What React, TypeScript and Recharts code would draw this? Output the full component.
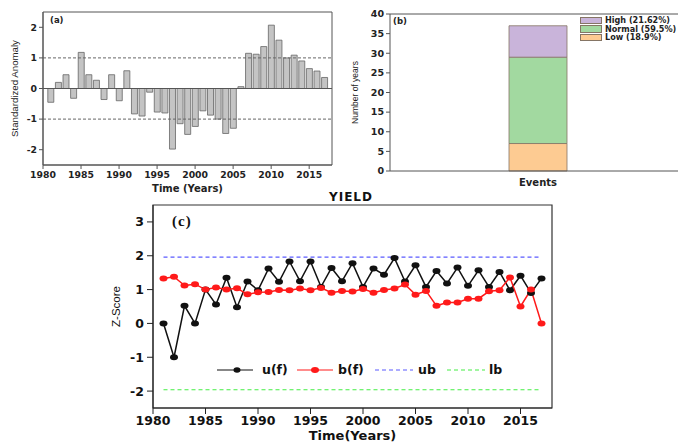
import { BarChart, Bar, LineChart, Line, XAxis, YAxis, ReferenceLine, ReferenceArea, Legend } from 'recharts';

const YEARS = [
  1981, 1982, 1983, 1984, 1985, 1986, 1987, 1988, 1989, 1990,
  1991, 1992, 1993, 1994, 1995, 1996, 1997, 1998, 1999, 2000,
  2001, 2002, 2003, 2004, 2005, 2006, 2007, 2008, 2009, 2010,
  2011, 2012, 2013, 2014, 2015, 2016, 2017,
];
const YEAR_TICKS = [1980, 1985, 1990, 1995, 2000, 2005, 2010, 2015];

// (a) standardized anomaly
const ANOMALY = [
  -0.45, 0.2, 0.45, -0.32, 1.18, 0.45, 0.27, -0.36, 0.45, -0.4,
  0.58, -0.83, -0.9, -0.12, -0.77, -0.8, -1.98, -1.15, -1.5, -1.24,
  -0.73, -0.87, -1.0, -1.47, -1.3, 0.06, 1.15, 1.12, 1.37, 2.07,
  1.58, 1.0, 1.09, 0.9, 0.65, 0.57, 0.36,
];
const ANOMALY_TICKS = [-2, -1, 0, 1, 2];

// (b) events
const EVENT_CATEGORIES = ['Events'];
const LOW_YEARS = [7];
const NORMAL_YEARS = [22];
const HIGH_YEARS = [8];
const EVENT_TICKS = [0, 5, 10, 15, 20, 25, 30, 35, 40];

// (c) Mann-Kendall
const UF = [
  0, -1, 0.52, 0, 1.0, 0.56, 1.35, 0.48, 1.24, 0.98,
  1.62, 1.23, 1.83, 1.25, 1.83, 1.08, 1.64, 1.25, 1.78, 1.08,
  1.62, 1.44, 1.93, 1.24, 1.72, 1.08, 1.55, 1.18, 1.65, 1.11,
  1.57, 1.08, 1.52, 0.98, 1.41, 0.9, 1.33,
];
const BF = [
  1.33, 1.38, 1.12, 1.16, 1.0, 1.06, 1.0, 1.04, 0.86, 0.92,
  0.93, 0.99, 0.98, 1.03, 0.98, 1.05, 0.91, 0.96, 0.94, 1.02,
  0.91, 0.99, 1.03, 1.15, 0.85, 0.96, 0.52, 0.62, 0.62, 0.73,
  0.73, 0.95, 0.98, 1.36, 0.5, 1.0, 0,
];
const UB = 1.96;
const LB = -1.96;
const Z_TICKS = [-2, -1, 0, 1, 2, 3];

const BOLD = '"DejaVu Sans", sans-serif';
const PLAIN = '"Liberation Sans", Arial, sans-serif';

const HIGH_C = '#c9b4da';
const NORMAL_C = '#a2d9a0';
const LOW_C = '#fdcb92';

const anomalyRows = YEARS.map((year, i) => ({ year, value: ANOMALY[i] }));
const eventRows = EVENT_CATEGORIES.map((name, i) => ({
  name,
  low: LOW_YEARS[i],
  normal: NORMAL_YEARS[i],
  high: HIGH_YEARS[i],
}));
const mkRows = YEARS.map((year, i) => ({ year, uf: UF[i], bf: BF[i] }));

const ellipseDot = (color: string) => (props: any) => (
  <ellipse key={`d-${props.index}`} cx={props.cx} cy={props.cy} rx={4} ry={3} fill={color} stroke="none" />
);

const EventsLegend = () => (
  <div style={{ fontFamily: BOLD, fontWeight: 'bold', fontSize: 8.1, color: '#222' }}>
    {[
      ['High (21.62%)', HIGH_C],
      ['Normal (59.5%)', NORMAL_C],
      ['Low (18.9%)', LOW_C],
    ].map(([t, c]) => (
      <div key={t} style={{ display: 'flex', alignItems: 'center', height: 8.5 }}>
        <span style={{ width: 22, height: 7.5, background: c, border: '1px solid #857565', boxSizing: 'border-box', marginRight: 3 }} />
        <span style={{ whiteSpace: 'nowrap' }}>{t}</span>
      </div>
    ))}
  </div>
);

const MkLegend = () => {
  const txt = { position: 'absolute' as const, top: 0, fontFamily: BOLD, fontWeight: 'bold' as const, fontSize: 12.5, lineHeight: '16px', color: '#111' };
  return (
    <div style={{ position: 'relative', width: 300, height: 16 }}>
      <svg style={{ position: 'absolute', left: 0, top: 3 }} width={36} height={10}>
        <line x1={0} y1={5} x2={36} y2={5} stroke="#111" strokeWidth={1.2} />
        <ellipse cx={20} cy={5} rx={3.5} ry={2.7} fill="#111" />
      </svg>
      <span style={{ ...txt, left: 45 }}>u(f)</span>
      <svg style={{ position: 'absolute', left: 80, top: 3 }} width={36} height={10}>
        <line x1={0} y1={5} x2={36} y2={5} stroke="#ff1a1a" strokeWidth={1.2} />
        <ellipse cx={18} cy={5} rx={4} ry={3} fill="#ff1a1a" />
      </svg>
      <span style={{ ...txt, left: 121 }}>b(f)</span>
      <svg style={{ position: 'absolute', left: 158, top: 3 }} width={38} height={10}>
        <line x1={0} y1={5} x2={38} y2={5} stroke="#5b5bff" strokeWidth={1.2} strokeDasharray="4 3" />
      </svg>
      <span style={{ ...txt, left: 201 }}>ub</span>
      <svg style={{ position: 'absolute', left: 230, top: 3 }} width={38} height={10}>
        <line x1={0} y1={5} x2={38} y2={5} stroke="#44ee44" strokeWidth={1.2} strokeDasharray="4 3" />
      </svg>
      <span style={{ ...txt, left: 272 }}>lb</span>
    </div>
  );
};

export default function App() {
  const tickA = { fontFamily: BOLD, fontWeight: 'bold', fontSize: 9.3, fill: '#222' };
  const tickC = { fontFamily: BOLD, fontWeight: 'bold', fontSize: 12.5, fill: '#111' };
  return (
    <div style={{ position: 'fixed', left: 0, top: 0, width: 678, height: 443, overflow: 'hidden', background: '#fff' }}>
      {/* (a) */}
      <div style={{ position: 'absolute', left: 0, top: 0 }}>
        <BarChart width={340} height={200} data={anomalyRows} margin={{ top: 12, right: 8, bottom: 0, left: 0 }}>
          <XAxis
            dataKey="year"
            type="number"
            domain={[1980, 2018]}
            ticks={YEAR_TICKS}
            height={35}
            stroke="#555"
            tickSize={4}
            tick={tickA}
            label={{ value: 'Time (Years)', position: 'insideBottom', offset: 8, style: { fontFamily: BOLD, fontWeight: 'bold', fontSize: 10, fill: '#222' } }}
          />
          <YAxis
            type="number"
            domain={[-2.5, 2.5]}
            ticks={ANOMALY_TICKS}
            width={43}
            stroke="#555"
            tickSize={4}
            tick={tickA}
            label={{ value: 'Standardized Anomaly', angle: -90, position: 'insideLeft', offset: 15, style: { textAnchor: 'middle', fontFamily: PLAIN, fontSize: 9.7, fill: '#222' } }}
          />
          <ReferenceArea x1={1980} x2={2018} y1={-2.5} y2={2.5} fill="none" stroke="#555" strokeWidth={1} />
          <ReferenceLine y={1} stroke="#666" strokeDasharray="3 2" />
          <ReferenceLine y={-1} stroke="#666" strokeDasharray="3 2" />
          <Bar dataKey="value" barSize={6} fill="#c4c4c4" stroke="#666" strokeWidth={0.8} isAnimationActive={false} />
          <ReferenceLine y={0} stroke="#555" />
        </BarChart>
        <div style={{ position: 'absolute', left: 50, top: 15, fontFamily: BOLD, fontWeight: 'bold', fontSize: 8.5, color: '#222' }}>(a)</div>
      </div>

      {/* (b) */}
      <div style={{ position: 'absolute', left: 330, top: 0 }}>
        <BarChart width={356} height={200} data={eventRows} margin={{ top: 14, right: 0, bottom: 0, left: 0 }}>
          <XAxis
            dataKey="name"
            height={29}
            stroke="#555"
            tickLine={false}
            tick={{ fontFamily: BOLD, fontWeight: 'bold', fontSize: 10, fill: '#222' }}
          />
          <YAxis
            type="number"
            domain={[0, 40]}
            ticks={EVENT_TICKS}
            width={60}
            stroke="#555"
            tickSize={4}
            tick={{ fontFamily: BOLD, fontWeight: 'bold', fontSize: 9.5, fill: '#222' }}
            label={{ value: 'Number of years', angle: -90, position: 'insideLeft', offset: 25, style: { textAnchor: 'middle', fontFamily: PLAIN, fontSize: 8.5, fill: '#222' } }}
          />
          <ReferenceLine y={40} stroke="#555" />
          <Bar dataKey="low" stackId="a" barSize={58} fill={LOW_C} stroke="#857565" strokeWidth={0.8} isAnimationActive={false} />
          <Bar dataKey="normal" stackId="a" barSize={58} fill={NORMAL_C} stroke="#857565" strokeWidth={0.8} isAnimationActive={false} />
          <Bar dataKey="high" stackId="a" barSize={58} fill={HIGH_C} stroke="#857565" strokeWidth={0.8} isAnimationActive={false} />
          <Legend
            layout="horizontal"
            verticalAlign="middle"
            align="center"
            content={<EventsLegend />}
            wrapperStyle={{ position: 'absolute', left: 250, top: 16, width: 100, height: 26 }}
          />
        </BarChart>
        <div style={{ position: 'absolute', left: 63, top: 16, fontFamily: BOLD, fontWeight: 'bold', fontSize: 8.5, color: '#222' }}>(b)</div>
      </div>

      {/* (c) */}
      <div style={{ position: 'absolute', left: 100, top: 185 }}>
        <LineChart width={460} height={262} data={mkRows} margin={{ top: 20, right: 8, bottom: 0, left: 0 }}>
          <XAxis
            dataKey="year"
            type="number"
            domain={[1980, 2018]}
            ticks={YEAR_TICKS}
            height={39}
            stroke="#222"
            tickSize={6}
            tickMargin={2}
            tick={tickC}
            label={{ value: 'Time(Years)', position: 'insideBottom', offset: 7, style: { fontFamily: BOLD, fontWeight: 'bold', fontSize: 13, fill: '#111' } }}
          />
          <YAxis
            type="number"
            domain={[-2.5, 3.5]}
            ticks={Z_TICKS}
            width={53}
            stroke="#222"
            tickSize={6}
            tickMargin={3}
            tick={tickC}
            label={{ value: 'Z-Score', angle: -90, position: 'insideLeft', offset: 16, style: { textAnchor: 'middle', fontFamily: PLAIN, fontSize: 11.5, fill: '#111' } }}
          />
          <ReferenceArea x1={1980} x2={2018} y1={-2.5} y2={3.5} fill="none" stroke="#333" strokeWidth={1.2} />
          <ReferenceLine segment={[{ x: 1981, y: UB }, { x: 2017, y: UB }]} stroke="#5b5bff" strokeWidth={1.2} strokeDasharray="4 3" />
          <ReferenceLine segment={[{ x: 1981, y: LB }, { x: 2017, y: LB }]} stroke="#44ee44" strokeWidth={1.2} strokeDasharray="4 3" />
          <Line dataKey="uf" stroke="#111" strokeWidth={1.5} dot={ellipseDot('#111')} isAnimationActive={false} />
          <Line dataKey="bf" stroke="#ff1a1a" strokeWidth={1.5} dot={ellipseDot('#ff1a1a')} isAnimationActive={false} />
          <Legend
            layout="horizontal"
            verticalAlign="middle"
            align="center"
            content={<MkLegend />}
            wrapperStyle={{ position: 'absolute', left: 117, top: 177, width: 300, height: 16 }}
          />
        </LineChart>
        <div style={{ position: 'absolute', left: 72, top: 28, fontFamily: '"Liberation Serif", serif', fontWeight: 'bold', fontSize: 15, letterSpacing: 1, color: '#111' }}>(c)</div>
        <div style={{ position: 'absolute', left: 229, top: 5, fontFamily: BOLD, fontWeight: 'bold', fontSize: 12, letterSpacing: 1, color: '#111' }}>YIELD</div>
      </div>
    </div>
  );
}
